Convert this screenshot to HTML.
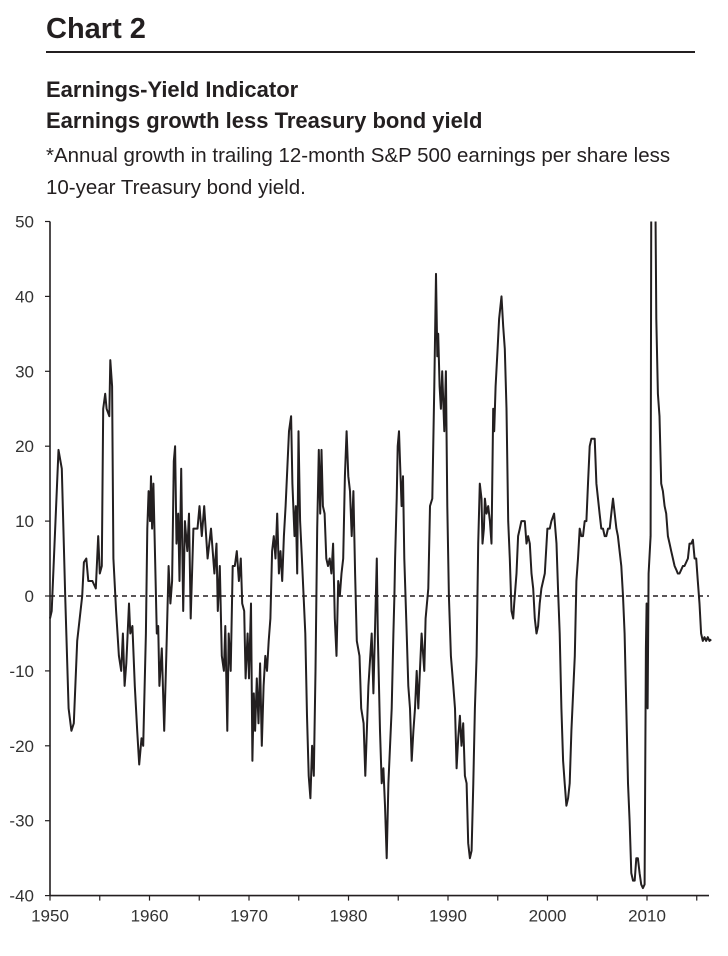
<!DOCTYPE html>
<html><head><meta charset="utf-8"><style>
body{margin:0;background:#fff;width:728px;height:956px;overflow:hidden;font-family:"Liberation Sans",sans-serif;color:#231f20}
.t{position:absolute;white-space:nowrap}
</style></head><body>
<div class="t" style="left:46px;top:13px;font-size:29px;font-weight:bold">Chart 2</div>
<div style="position:absolute;left:46px;top:51px;width:649px;height:2px;background:#231f20"></div>
<div class="t" style="left:46px;top:77px;font-size:22px;font-weight:bold">Earnings-Yield Indicator</div>
<div class="t" style="left:46px;top:108px;font-size:22px;font-weight:bold">Earnings growth less Treasury bond yield</div>
<div class="t" style="left:46px;top:140px;font-size:20.5px;line-height:32px">*Annual growth in trailing 12-month S&amp;P 500 earnings per share less<br>10-year Treasury bond yield.</div>
<svg id="c" width="728" height="956" style="position:absolute;left:0;top:0"></svg>
<script>
const years=[1950,1950.17,1950.85,1951.19,1951.53,1951.87,1952.15,1952.39,1952.73,1953.24,1953.41,1953.65,1953.85,1954.26,1954.6,1954.84,1955.01,1955.21,1955.35,1955.55,1955.69,1955.96,1956.06,1956.24,1956.37,1956.64,1956.92,1957.16,1957.33,1957.5,1957.67,1957.94,1958.07,1958.28,1958.52,1958.76,1958.96,1959.2,1959.37,1959.64,1959.78,1959.91,1960.05,1960.15,1960.26,1960.39,1960.56,1960.73,1960.87,1961.0,1961.24,1961.48,1961.69,1961.92,1962.1,1962.27,1962.44,1962.57,1962.71,1962.88,1963.02,1963.19,1963.39,1963.56,1963.8,1963.97,1964.14,1964.41,1964.82,1965.03,1965.26,1965.5,1965.84,1966.18,1966.52,1966.73,1966.86,1967.07,1967.27,1967.48,1967.62,1967.82,1967.96,1968.16,1968.36,1968.57,1968.77,1968.98,1969.18,1969.32,1969.52,1969.66,1969.86,1970.0,1970.2,1970.34,1970.48,1970.61,1970.78,1970.95,1971.12,1971.29,1971.47,1971.64,1971.81,1971.98,1972.15,1972.32,1972.49,1972.66,1972.83,1973.0,1973.17,1973.34,1973.51,1973.68,1973.85,1974.02,1974.23,1974.36,1974.57,1974.7,1974.84,1974.97,1975.14,1975.32,1975.49,1975.66,1975.83,1976.0,1976.17,1976.34,1976.51,1976.68,1976.85,1977.02,1977.16,1977.29,1977.43,1977.6,1977.77,1977.94,1978.11,1978.28,1978.45,1978.62,1978.79,1978.96,1979.13,1979.3,1979.47,1979.64,1979.81,1979.98,1980.15,1980.32,1980.49,1980.66,1980.83,1981.11,1981.28,1981.52,1981.69,
1982.0,1982.33,1982.5,1982.67,1982.84,1982.94,1983.17,1983.34,1983.51,1983.67,1983.84,1984.01,1984.34,1984.51,1984.61,1984.68,1984.84,1984.94,1985.08,1985.18,1985.34,1985.48,1985.61,1985.85,1986.01,1986.18,1986.35,1986.52,1986.68,1986.85,1987.02,1987.18,1987.35,1987.62,1987.75,1988.02,1988.19,1988.42,1988.62,1988.79,1988.92,1989.02,1989.16,1989.29,1989.42,1989.63,1989.79,1989.93,1990.09,1990.29,1990.53,1990.7,1990.86,1991.03,1991.2,1991.36,1991.53,1991.7,1991.87,1992.03,1992.2,1992.37,1992.54,1992.7,1992.87,1993.04,1993.2,1993.37,1993.47,1993.61,1993.71,1993.87,1994.04,1994.21,1994.37,1994.54,1994.64,1994.78,1994.98,1995.14,1995.38,1995.55,1995.71,1995.88,1996.05,1996.21,1996.38,1996.55,1996.65,1996.88,1997.05,1997.22,1997.38,1997.72,1997.89,1998.05,1998.22,1998.39,1998.56,1998.72,1998.89,1999.06,1999.22,1999.39,1999.73,1999.99,2000.23,2000.39,2000.66,2000.9,2001.06,2001.23,2001.4,2001.57,2001.73,2001.9,2002.07,2002.23,2002.4,2002.74,2002.9,2003.07,2003.24,2003.4,2003.57,2003.74,2003.91,2004.07,2004.24,2004.41,2004.74,2004.91,2005.08,2005.24,2005.41,2005.58,2005.75,2005.91,2006.08,2006.25,2006.41,2006.58,2006.75,2006.92,2007.08,2007.25,2007.42,2007.59,2007.75,2007.92,2008.09,2008.25,2008.42,2008.59,2008.76,2008.92,2009.09,2009.26,2009.42,2009.59,2009.76,2009.89,2009.96,2010.06,2010.16,2010.36,2010.43,2010.6,2010.83,2010.93,2011.1,2011.26,2011.43,2011.6,2011.77,2011.93,2012.1,2012.27,2012.43,2012.6,2012.77,2012.94,2013.1,2013.27,2013.44,2013.61,2013.77,2014.11,2014.27,2014.44,2014.61,2014.78,2014.94,2015.11,2015.28,2015.44,2015.61,2015.78,2015.95,2016.11,2016.28,2016.45];
const values=[-3,-2,19.5,17,0,-15,-18,-17,-6,0,4.5,5,2,2,1,8,3,4,25,27,25,24,31.5,28,5,-2,-8,-10,-5,-12,-9,-1,-5,-4,-12,-18,-22.5,-19,-20,-5,9,14,10,16,9,15,5,-5,-4,-12,-7,-18,-8,4,-1,2,18,20,7,11,2,17,-2,10,6,11,-3,9,9,12,8,12,5,9,3,7,-2,4,-8,-10,-4,-18,-5,-10,4,4,6,2,5,-1,-2,-11,-5,-11,-1,-22,-13,-18,-11,-17,-9,-20,-12,-8,-10,-6,-3,6,8,5,11,3,6,2,8,12,17,22,24,15,8,12,3,22,10,5,0,-5,-16,-24,-27,-20,-24,-10,9,19.5,11,19.5,12,11,5,4,5,3,7,-3,-8,2,0,3,5,16,22,16,14,8,14,3,-6,-8,-15,-17,-24,
-12,-5,-13,-4,5,-5,-18,-25,-23,-28,-35,-25,-15,-5,0,5,13,20,22,18,12,16,5,-5,-12,-15,-22,-18,-15,-10,-15,-10,-5,-10,-3,1,12,13,28,43,32,35,28,25,30,22,30,12,0,-8,-12,-15,-23,-19,-16,-20,-17,-24,-25,-33,-35,-34,-25,-15,-8,7,15,13,7,9,13,11,12,10,7,25,22,28,33,37,40,36,33,25,10,5,-2,-3,-1,3,8,9,10,10,7,8,7,3,1,-3,-5,-4,-1,1,3,9,9,10,11,7,1,-5,-15,-22,-25,-28,-27,-25,-18,-8,2,5,9,8,8,10,10,15,20,21,21,15,13,11,9,9,8,8,9,9,11,13,11,9,8,6,4,0,-5,-15,-25,-30,-37,-38,-38,-35,-35,-37,-38.5,-39,-38.5,-7,-1,-15,3,8,55,55,55,37,27,24,15,14,12,11,8,7,6,5,4,3.5,3,3,3.5,4,4,5,7,7,7.5,5,5,2,-1,-5,-6,-5.5,-6,-5.5,-6,-5.8];
const yTicks=[50,40,30,20,10,0,-10,-20,-30,-40];
const xLabels=[1950,1960,1970,1980,1990,2000,2010];
const xMinor=[1955,1965,1975,1985,1995,2005,2015];
const X0=50,Y0=596,PX=9.95,PY=7.49,YMIN=-40,YMAX=50;
const xs=y=>X0+(y-1950)*PX, ys=v=>Y0-v*PY;
const svg=document.getElementById('c'),NS='http://www.w3.org/2000/svg';
function mk(t,a){const e=document.createElementNS(NS,t);for(const k in a)e.setAttribute(k,a[k]);svg.appendChild(e);return e;}
const defs=mk('defs',{});const cp=document.createElementNS(NS,'clipPath');cp.setAttribute('id','clip');
const r=document.createElementNS(NS,'rect');r.setAttribute('x',40);r.setAttribute('y',ys(YMAX));r.setAttribute('width',680);r.setAttribute('height',ys(YMIN)-ys(YMAX)+2);cp.appendChild(r);defs.appendChild(cp);
let e=mk('line',{x1:X0,y1:ys(YMAX),x2:X0,y2:ys(YMIN),stroke:'#231f20','stroke-width':1.6});


e=mk('line',{x1:X0,y1:ys(YMIN),x2:709,y2:ys(YMIN),stroke:'#231f20','stroke-width':1.6});


yTicks.forEach(v=>{
 let t=mk('line',{x1:X0-5,y1:ys(v),x2:X0,y2:ys(v),stroke:'#231f20','stroke-width':1.2});
 
 
 let l=mk('text',{x:X0-16,y:ys(v)+6,'text-anchor':'end','font-size':17,fill:'#333','font-family':'Liberation Sans, sans-serif'});
 l.textContent=v;
 
 
});
xLabels.concat(xMinor).forEach(y=>{
 let t=mk('line',{x1:xs(y),y1:ys(YMIN),x2:xs(y),y2:ys(YMIN)+5,stroke:'#231f20','stroke-width':1.2});
 
 
});
xLabels.forEach(y=>{
 let l=mk('text',{x:xs(y),y:ys(YMIN)+26,'text-anchor':'middle','font-size':17,fill:'#333','font-family':'Liberation Sans, sans-serif'});
 l.textContent=y;
 
 
});
e=mk('line',{x1:X0,y1:ys(0),x2:709,y2:ys(0),stroke:'#231f20','stroke-width':1.6,'stroke-dasharray':'5,4'});


const d=years.map((y,i)=>(i?'L':'M')+xs(y).toFixed(1)+','+ys(values[i]).toFixed(1)).join('');
e=mk('path',{d:d,fill:'none',stroke:'#231f20','stroke-width':2,'stroke-linejoin':'round','clip-path':'url(#clip)'});


</script>
</body></html>
